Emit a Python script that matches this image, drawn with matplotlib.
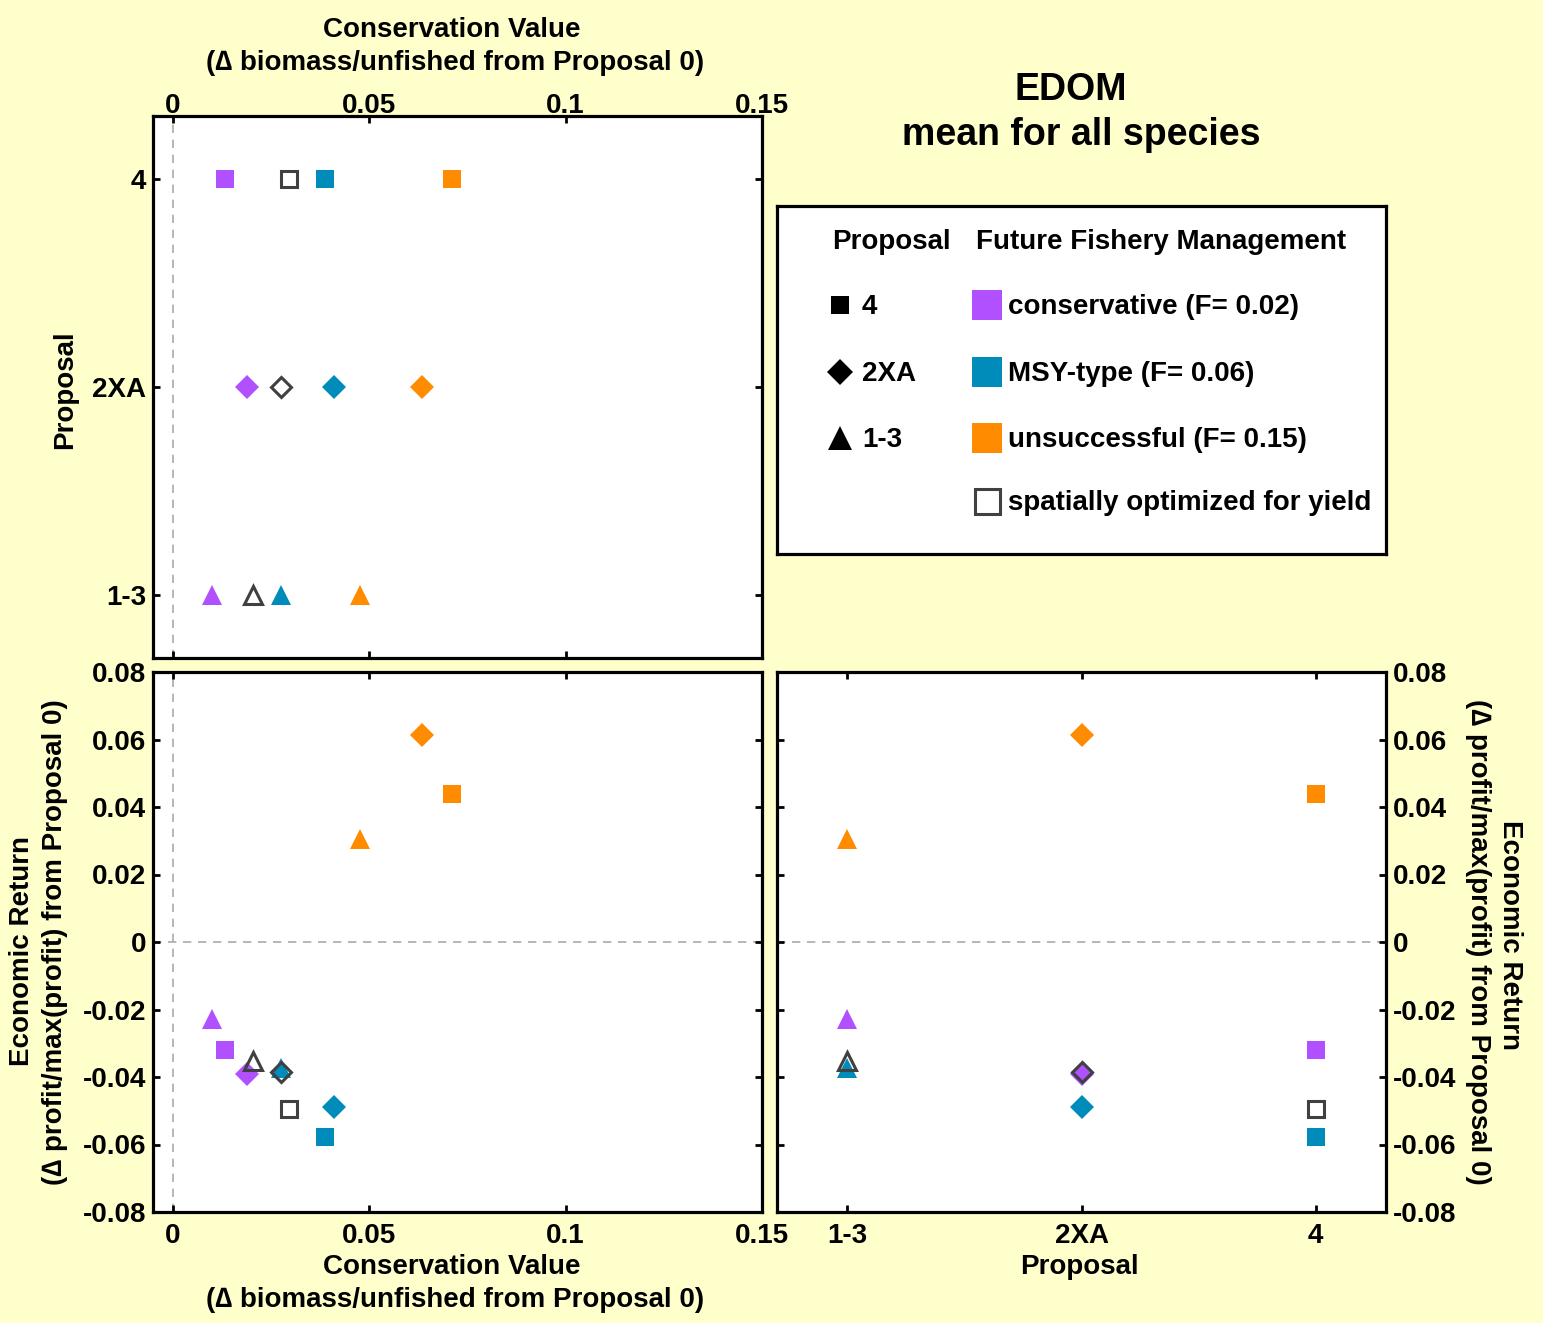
import matplotlib
matplotlib.use("Agg")
import matplotlib.pyplot as plt
import numpy as np

plt.rcParams['font.family'] = ['Liberation Sans', 'DejaVu Sans']
plt.rcParams['font.weight'] = 'bold'

# ---- data ----
proposals = ['1-3', '2XA', '4']
proposal_pos = [1, 2, 3]
markers = ['^', 'D', 's']
mgmt = ['conservative (F= 0.02)', 'MSY-type (F= 0.06)', 'unsuccessful (F= 0.15)',
        'spatially optimized for yield']
colors = ['#B050FF', '#008CBA', '#FF8C00', None]

# conservation value per management and proposal (order: 1-3, 2XA, 4)
conservation = {
    'conservative': [0.0099, 0.0189, 0.0133],
    'msy':          [0.0276, 0.0411, 0.0388],
    'unsuccessful': [0.0477, 0.0635, 0.0712],
    'optimized':    [0.0204, 0.0276, 0.0296],
}
economic = {
    'conservative': [-0.0228, -0.0391, -0.0320],
    'msy':          [-0.0373, -0.0489, -0.0578],
    'unsuccessful': [0.0305, 0.0613, 0.0439],
    'optimized':    [-0.0353, -0.0385, -0.0495],
}
keys = ['conservative', 'msy', 'unsuccessful', 'optimized']

BG = '#FFFFCC'
W, H = 1543, 1323
fig = plt.figure(figsize=(W/100, H/100), dpi=100, facecolor=BG)

def frac(x0, y0, x1, y1):
    return [x0/W, 1 - y1/H, (x1-x0)/W, (y1-y0)/H]

ax_tl = fig.add_axes(frac(153, 116, 762, 658))
ax_bl = fig.add_axes(frac(153, 672, 762, 1212))
ax_br = fig.add_axes(frac(777, 672, 1386, 1212))
ax_lg = fig.add_axes(frac(777, 206, 1386, 554))

FS = 20
msize = {'s': 13, 'D': 12, '^': 15}

def ftext(x, y, s, **kw):
    kw.setdefault('fontsize', FS)
    kw.setdefault('fontweight', 'bold')
    kw.setdefault('ha', 'center')
    kw.setdefault('va', 'center')
    fig.text(x/W, 1 - y/H, s, **kw)

def style(ax):
    ax.set_facecolor('white')
    for s in ax.spines.values():
        s.set_linewidth(2.3)
        s.set_color('black')
    ax.tick_params(direction='in', length=5, width=2, labelsize=FS, pad=5,
                   top=True, bottom=True, left=True, right=True)
    ax.tick_params(axis='x', pad=7)
    for lab in ax.get_xticklabels() + ax.get_yticklabels():
        lab.set_fontweight('bold')

def draw(ax, xdata, ydata):
    for k, c in zip(keys, colors):
        if c is None:
            continue
        for i, m in enumerate(markers):
            ax.plot([xdata(k, i)], [ydata(k, i)], marker=m, color=c, markersize=msize[m],
                    markeredgewidth=0, linestyle='none', zorder=3)
    for i, m in enumerate(markers):
        ax.plot([xdata('optimized', i)], [ydata('optimized', i)], marker=m,
                markerfacecolor='none', markeredgecolor='#404040',
                markersize=msize[m]-2, markeredgewidth=2.2, linestyle='none', zorder=4)

xlim = (-0.005, 0.15)
xticks = [0, 0.05, 0.1, 0.15]
xticklabels = ['0', '0.05', '0.1', '0.15']
ylim_e = (-0.08, 0.08)
yticks_e = [-0.08, -0.06, -0.04, -0.02, 0, 0.02, 0.04, 0.06, 0.08]
yticklabels_e = ['-0.08', '-0.06', '-0.04', '-0.02', '0', '0.02', '0.04', '0.06', '0.08']

dash = dict(color='#AAAAAA', linestyle=(0, (5, 4)), linewidth=1.2, zorder=1)

# top-left
ax = ax_tl
ax.axvline(0, **dash)
draw(ax, lambda k, i: conservation[k][i], lambda k, i: proposal_pos[i])
ax.set_xlim(xlim)
ax.set_ylim(0.7, 3.3)
ax.set_xticks(xticks)
ax.set_xticklabels(xticklabels)
ax.set_yticks(proposal_pos)
ax.set_yticklabels(proposals)
style(ax)
ax.tick_params(axis='x', labeltop=True, labelbottom=False, pad=-2)

# bottom-left
ax = ax_bl
ax.axvline(0, **dash)
ax.axhline(0, **dash)
draw(ax, lambda k, i: conservation[k][i], lambda k, i: economic[k][i])
ax.set_xlim(xlim)
ax.set_ylim(ylim_e)
ax.set_xticks(xticks)
ax.set_xticklabels(xticklabels)
ax.set_yticks(yticks_e)
ax.set_yticklabels(yticklabels_e)
style(ax)
ax.tick_params(axis='x', pad=8)

# bottom-right
ax = ax_br
ax.axhline(0, **dash)
draw(ax, lambda k, i: proposal_pos[i], lambda k, i: economic[k][i])
ax.set_xlim(0.7, 3.3)
ax.set_ylim(ylim_e)
ax.set_xticks(proposal_pos)
ax.set_xticklabels(proposals)
ax.set_yticks(yticks_e)
ax.set_yticklabels(yticklabels_e)
style(ax)
ax.tick_params(labelleft=False, labelright=True)
ax.tick_params(axis='x', pad=8)

# axis labels
ftext(452, 30, 'Conservation Value')
ftext(455, 63, '(\u2206 biomass/unfished from Proposal 0)')
ftext(452, 1267, 'Conservation Value')
ftext(455, 1300, '(\u2206 biomass/unfished from Proposal 0)')
ftext(1079, 1267, 'Proposal')
ftext(65, 390, 'Proposal', rotation=90)
ftext(22, 951, 'Economic Return', rotation=90)
ftext(55, 942, '(\u2206 profit/max(profit) from Proposal 0)', rotation=90)
ftext(1478, 942, '(\u2206 profit/max(profit) from Proposal 0)', rotation=270)
ftext(1510, 935, 'Economic Return', rotation=270)

# legend box
ax = ax_lg
ax.set_xlim(777, 1386)
ax.set_ylim(554, 206)
ax.set_xticks([]); ax.set_yticks([])
for s in ax.spines.values():
    s.set_linewidth(2.3)
ax.set_facecolor('white')
ax.text(832, 242, 'Proposal', fontsize=FS, fontweight='bold', va='center', ha='left')
ax.text(976, 242, 'Future Fishery Management', fontsize=FS, fontweight='bold',
        va='center', ha='left')
rows = [305, 372, 438, 501]
lg_markers = ['s', 'D', '^']
lg_labels = ['4', '2XA', '1-3']
for r, m, l in zip(rows, lg_markers, lg_labels):
    ax.plot([840], [r], marker=m, color='black', markersize={'s': 13, 'D': 13, '^': 17}[m],
            markeredgewidth=0, linestyle='none')
    ax.text(862, r + 2, l, fontsize=FS, fontweight='bold', va='center', ha='left')
for r, c, l in zip(rows, colors, mgmt):
    if c is None:
        ax.plot([987], [r], marker='s', markerfacecolor='none', markeredgecolor='#404040',
                markersize=18, markeredgewidth=2.2, linestyle='none')
    else:
        ax.plot([987], [r], marker='s', color=c, markersize=21, markeredgewidth=0,
                linestyle='none')
    ax.text(1008, r + 2, l, fontsize=FS, fontweight='bold', va='center', ha='left')

# title
ftext(1071, 90, 'EDOM', fontsize=27)
ftext(1081, 135, 'mean for all species', fontsize=27)

fig.savefig('out.png', dpi=100, facecolor=BG)
